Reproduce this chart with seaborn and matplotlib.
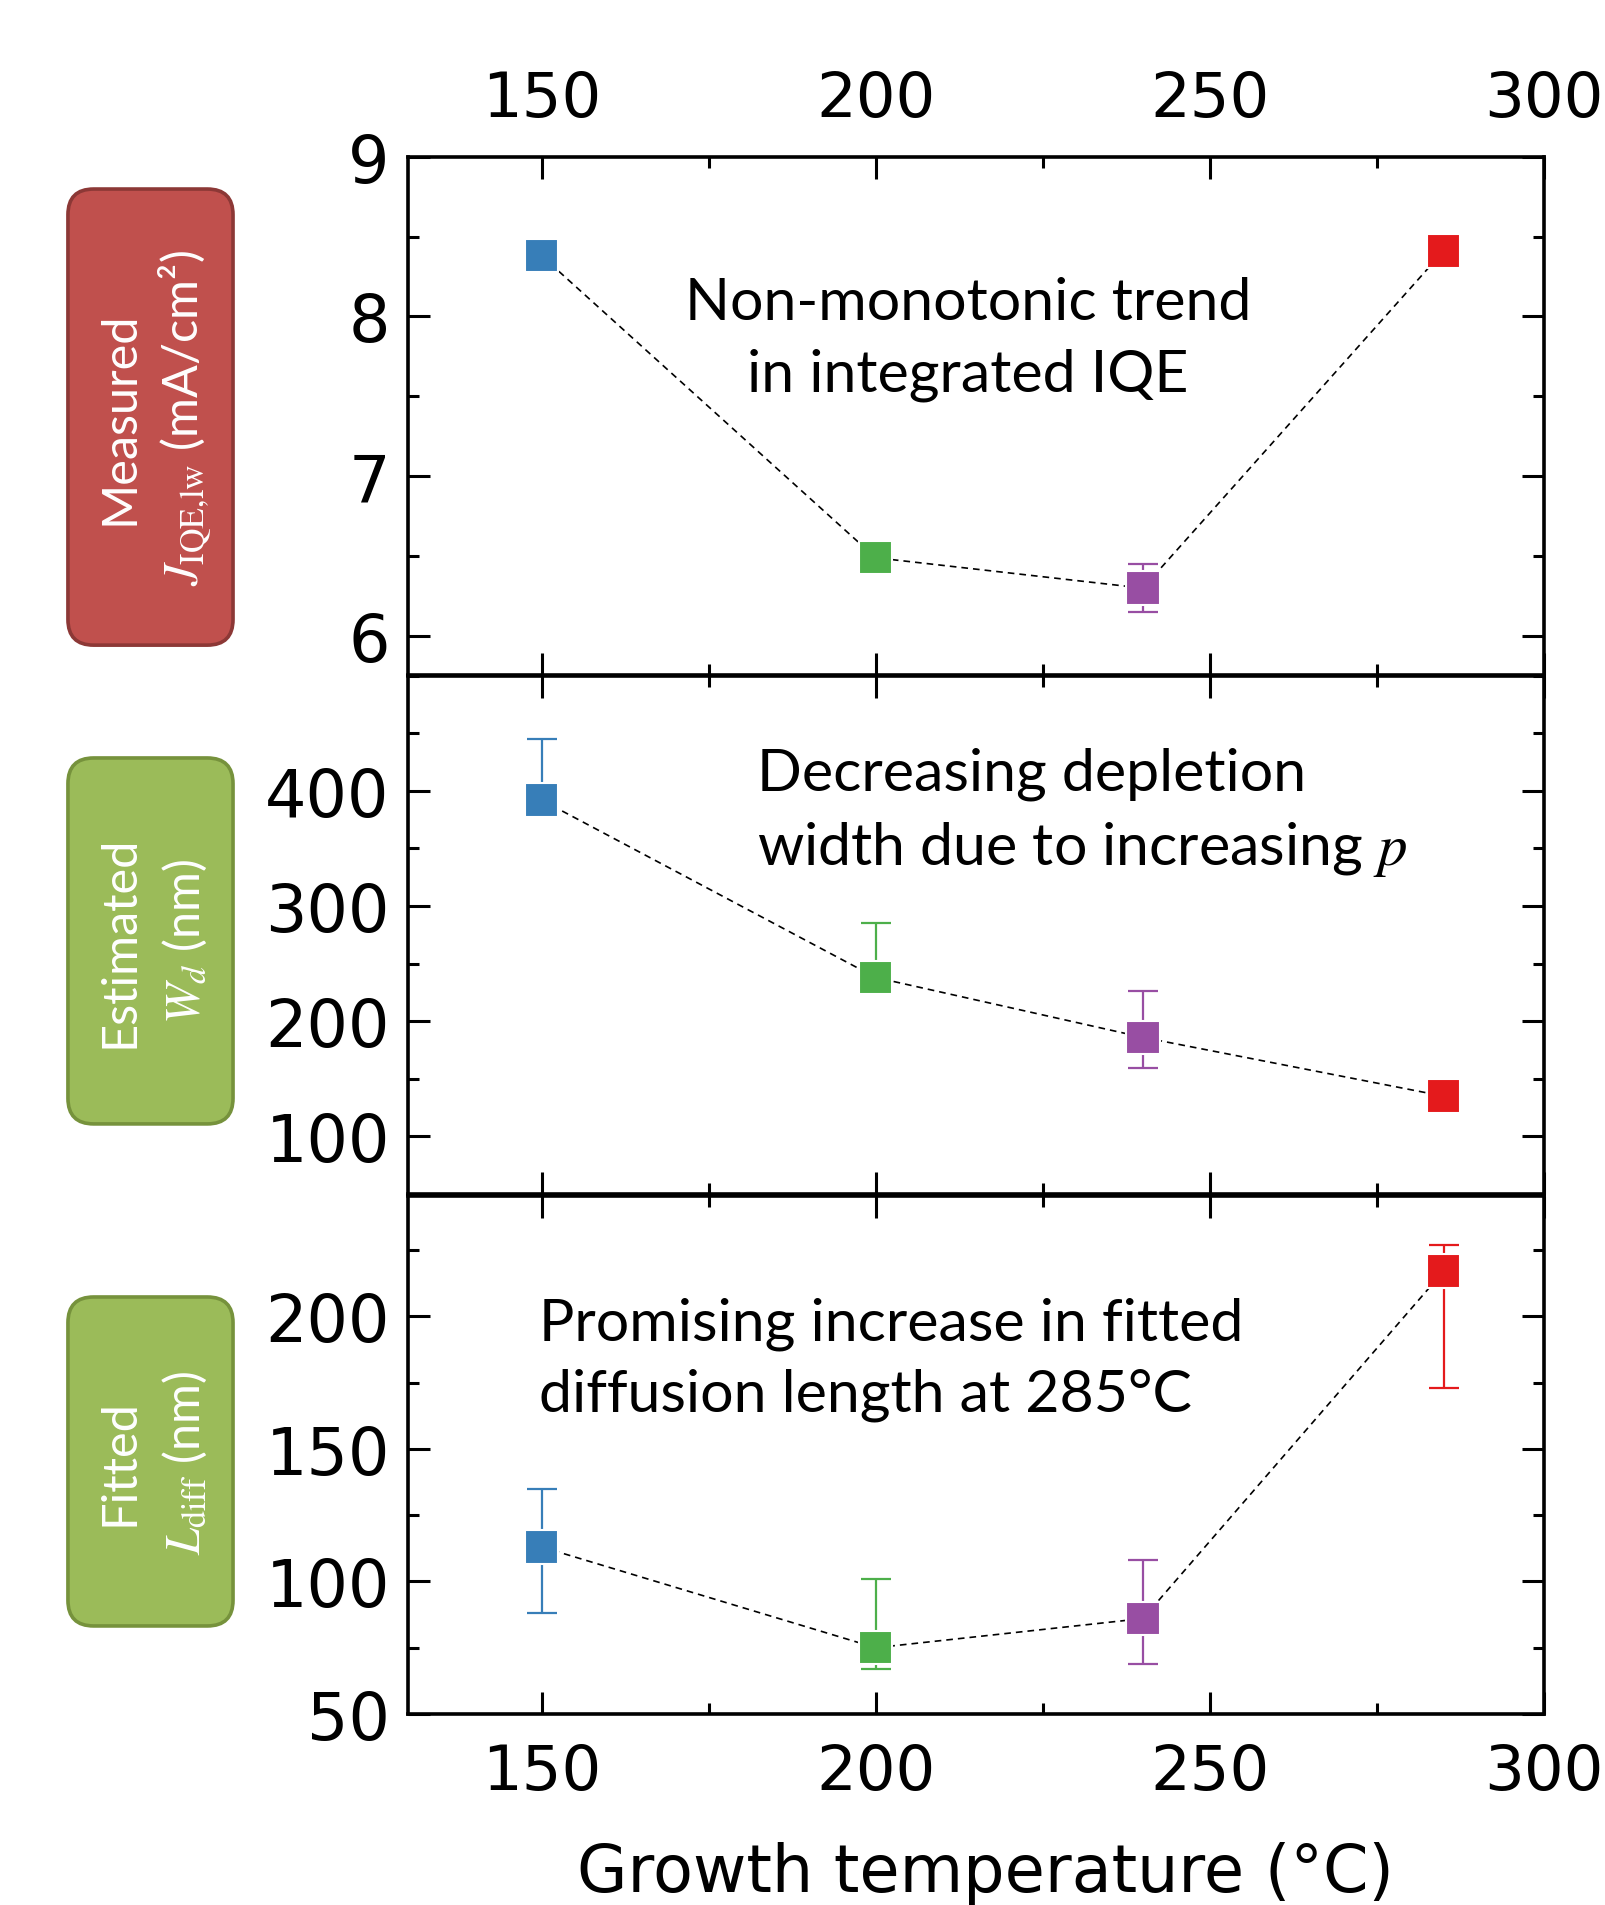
import numpy as np
import pandas as pd
import matplotlib
matplotlib.use("Agg")
import matplotlib.pyplot as plt
from matplotlib.patches import FancyBboxPatch
from matplotlib.ticker import MultipleLocator
import seaborn as sns

# data
temps = [150, 200, 240, 285]
colors = ["#377eb8", "#4daf4a", "#984ea3", "#e41a1c"]

j_iqe = [8.38, 6.49, 6.30, 8.41]
j_err_lo = [0, 0, 0.15, 0]
j_err_hi = [0, 0, 0.15, 0]

w_dep = [392, 238, 186, 135]
w_err_lo = [0, 0, 27, 0]
w_err_hi = [53, 47, 40, 0]

l_diff = [113, 75, 86, 217]
l_err_lo = [25, 8, 17, 44]
l_err_hi = [22, 26, 22, 10]

sns.set_style("ticks")
plt.rcParams["font.family"] = ["DejaVu Sans"]
plt.rcParams["mathtext.fontset"] = "stix"
plt.rcParams["text.color"] = "black"
plt.rcParams["axes.labelcolor"] = "black"

fig = plt.figure(figsize=(16.06, 19.06), dpi=100)
left, width = 0.254, 0.7073
bottoms = [0.6453, 0.3730, 0.1002]
h = 0.2720
axes = [fig.add_axes([left, b, width, h]) for b in bottoms]

panels = [
    (j_iqe, j_err_lo, j_err_hi, (5.756, 9), [6, 7, 8, 9], 0.5),
    (w_dep, w_err_lo, w_err_hi, (50, 500), [100, 200, 300, 400], 50),
    (l_diff, l_err_lo, l_err_hi, (50, 245.5), [50, 100, 150, 200], 25),
]

for i, (ax, (vals, elo, ehi, ylim, yt, ymin)) in enumerate(zip(axes, panels)):
    df = pd.DataFrame({"T": temps, "v": vals, "c": colors})
    sns.lineplot(data=df, x="T", y="v", ax=ax, color="black",
                 linestyle=(0, (4, 3)), linewidth=1.2, zorder=1)
    for t, v, lo, hi, c in zip(temps, vals, elo, ehi, colors):
        if lo or hi:
            ax.errorbar([t], [v], yerr=[[lo], [hi]], fmt="none", ecolor=c,
                        elinewidth=1.6, capsize=11, capthick=1.6, zorder=2)
    sns.scatterplot(data=df, x="T", y="v", hue="c", palette=colors, ax=ax,
                    marker="s", s=580, edgecolor="white", linewidth=1.5,
                    legend=False, zorder=3)
    ax.set_xlim(130, 300)
    ax.set_ylim(*ylim)
    ax.set_xticks([150, 200, 250, 300])
    ax.xaxis.set_minor_locator(MultipleLocator(25))
    ax.set_yticks(yt)
    ax.yaxis.set_minor_locator(MultipleLocator(ymin))
    ax.set_xlabel("")
    ax.set_ylabel("")
    for sp in ax.spines.values():
        sp.set_visible(True)
        sp.set_linewidth(2.6)
        sp.set_color("black")
    ax.tick_params(which="both", direction="in", top=True, right=True,
                   width=2.2, color="black", labelcolor="black")
    ax.tick_params(which="major", length=16)
    ax.tick_params(which="minor", length=8)
    ax.tick_params(axis="y", pad=13, labelsize=47)
    ax.tick_params(axis="x", pad=20, labelsize=45)
    ax.tick_params(axis="x", labelbottom=(i == 2), labeltop=(i == 0))

axes[2].set_xlabel("Growth temperature (°C)", fontsize=47, labelpad=28)
axes[2].xaxis.label.set_x(0.5086)

ann_font = ["Lato", "DejaVu Sans"]
axes[0].text(0.493, 0.649, "Non-monotonic trend\nin integrated IQE",
             transform=axes[0].transAxes, ha="center", va="center",
             fontsize=42.5, family=ann_font, linespacing=1.42)
axes[1].text(0.307, 0.736, "Decreasing depletion\nwidth due to increasing $p$",
             transform=axes[1].transAxes, ha="left", va="center",
             fontsize=42.5, family=ann_font, linespacing=1.42)
axes[2].text(0.115, 0.685, "Promising increase in fitted\ndiffusion length at 285°C",
             transform=axes[2].transAxes, ha="left", va="center",
             fontsize=42.5, family=ann_font, linespacing=1.42)

# label boxes on the left
boxes = [
    (0.6610, 0.9003, "#c0504d", "#8c3836", "Measured",
     r"$J_\mathrm{IQE{,}lw}$ (mA/cm²)"),
    (0.4098, 0.6018, "#9bbb59", "#76923c", "Estimated", r"$W_d$ (nm)"),
    (0.1464, 0.3190, "#9bbb59", "#76923c", "Fitted", r"$L_\mathrm{diff}$ (nm)"),
]
bx0, bx1 = 0.0423, 0.1451
for y0, y1, fc, ec, line1, line2 in boxes:
    patch = FancyBboxPatch((bx0, y0), bx1 - bx0, y1 - y0,
                           boxstyle="round,pad=0,rounding_size=0.016",
                           mutation_aspect=1606 / 1906, transform=fig.transFigure,
                           facecolor=fc, edgecolor=ec, linewidth=2.6)
    fig.patches.append(patch)
    yc = (y0 + y1) / 2
    fig.text(0.0741, yc, line1, rotation=90, ha="center", va="center",
             color="white", fontsize=35, family=ann_font)
    fig.text(0.1152, yc, line2, rotation=90, ha="center", va="center",
             color="white", fontsize=35, family=ann_font)

fig.savefig("out.png", dpi=100)
